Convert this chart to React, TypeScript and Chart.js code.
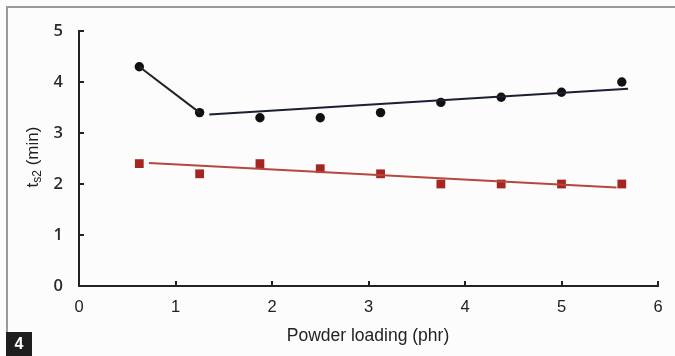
import React, { useEffect, useRef } from "react";
import { Chart, registerables } from "chart.js";

Chart.register(...registerables);

const loadings = [0.625, 1.25, 1.875, 2.5, 3.125, 3.75, 4.375, 5, 5.625];
const blackValues = [4.3, 3.4, 3.3, 3.3, 3.4, 3.6, 3.7, 3.8, 4.0];
const redValues = [2.4, 2.2, 2.4, 2.3, 2.2, 2.0, 2.0, 2.0, 2.0];
const blackSegment = [
  { x: 0.625, y: 4.3 },
  { x: 1.25, y: 3.4 },
];
const blackFit = [
  { x: 1.35, y: 3.365 },
  { x: 5.69, y: 3.87 },
];
const redFit = [
  { x: 0.725, y: 2.41 },
  { x: 5.57, y: 1.93 },
];
const xTicks = [0, 1, 2, 3, 4, 5, 6];
const yTicks = [0, 1, 2, 3, 4, 5];
const xTitle = "Powder loading (phr)";
const yTitleMain = "t";
const yTitleSub = "s2";
const yTitleRest = " (min)";
const figureLabel = "4";

const decorPlugin = {
  id: "decor",
  beforeDraw(chart: any) {
    const { ctx, width, height } = chart;
    ctx.save();
    ctx.fillStyle = "#fcfcfc";
    ctx.fillRect(0, 0, width, height);
    ctx.restore();
  },
  afterDraw(chart: any) {
    const { ctx, chartArea } = chart;
    const xs = chart.scales.x;
    const ys = chart.scales.y;
    ctx.save();
    // inward tick marks
    ctx.strokeStyle = "#222";
    ctx.lineWidth = 2;
    yTicks.forEach((v) => {
      const py = Math.round(ys.getPixelForValue(v));
      ctx.beginPath();
      ctx.moveTo(chartArea.left, py);
      ctx.lineTo(chartArea.left + 5, py);
      ctx.stroke();
    });
    xTicks.forEach((v) => {
      const px = Math.round(xs.getPixelForValue(v));
      ctx.beginPath();
      ctx.moveTo(px, chartArea.bottom);
      ctx.lineTo(px, chartArea.bottom - 5);
      ctx.stroke();
    });
    // x title
    ctx.fillStyle = "#222";
    ctx.font = "17.5px 'Liberation Sans', Arial, sans-serif";
    ctx.textAlign = "center";
    ctx.textBaseline = "middle";
    ctx.fillText(xTitle, 368, 336);
    // y title with subscript
    ctx.translate(32, 157);
    ctx.rotate(-Math.PI / 2);
    const mainFont = "17px 'Liberation Sans', Arial, sans-serif";
    const subFont = "12px 'Liberation Sans', Arial, sans-serif";
    ctx.font = mainFont;
    const w1 = ctx.measureText(yTitleMain).width;
    const w3 = ctx.measureText(yTitleRest).width;
    ctx.font = subFont;
    const w2 = ctx.measureText(yTitleSub).width;
    const total = w1 + w2 + w3;
    let cx = -total / 2;
    ctx.textAlign = "left";
    ctx.textBaseline = "alphabetic";
    ctx.font = mainFont;
    ctx.fillText(yTitleMain, cx, 6);
    cx += w1;
    ctx.font = subFont;
    ctx.fillText(yTitleSub, cx, 9);
    cx += w2;
    ctx.font = mainFont;
    ctx.fillText(yTitleRest, cx, 6);
    ctx.restore();

    // frame and figure label
    ctx.save();
    ctx.strokeStyle = "#9a9a9a";
    ctx.lineWidth = 2;
    ctx.beginPath();
    ctx.moveTo(7, 333);
    ctx.lineTo(7, 7);
    ctx.lineTo(675, 7);
    ctx.stroke();
    ctx.fillStyle = "#1e1e1e";
    ctx.fillRect(6, 332, 26, 24);
    ctx.fillStyle = "#ffffff";
    ctx.font = "bold 16px 'Liberation Sans', Arial, sans-serif";
    ctx.textAlign = "center";
    ctx.textBaseline = "middle";
    ctx.fillText(figureLabel, 19, 345);
    ctx.restore();
  },
};

export default function App() {
  const canvasRef = useRef<HTMLCanvasElement | null>(null);

  useEffect(() => {
    document.body.style.margin = "0";
    const canvas = canvasRef.current;
    if (!canvas) return;
    const black = "#111111";
    const redPoint = "#a52521";
    const redLine = "#b5483c";
    const chart = new Chart(canvas, {
      type: "scatter",
      data: {
        datasets: [
          {
            label: "segment",
            data: blackSegment,
            showLine: true,
            borderColor: "#222",
            borderWidth: 2,
            pointRadius: 0,
          },
          {
            label: "black fit",
            data: blackFit,
            showLine: true,
            borderColor: "#1a1f33",
            borderWidth: 2,
            pointRadius: 0,
          },
          {
            label: "red fit",
            data: redFit,
            showLine: true,
            borderColor: redLine,
            borderWidth: 2,
            pointRadius: 0,
          },
          {
            label: "black",
            data: loadings.map((x, i) => ({ x, y: blackValues[i] })),
            pointStyle: "circle",
            pointRadius: 4.7,
            backgroundColor: black,
            borderColor: black,
            borderWidth: 0,
          },
          {
            label: "red",
            data: loadings.map((x, i) => ({ x, y: redValues[i] })),
            pointStyle: "rect",
            pointRadius: 6.2,
            backgroundColor: redPoint,
            borderColor: redPoint,
            borderWidth: 0,
          },
        ],
      },
      options: {
        animation: false,
        responsive: false,
        maintainAspectRatio: false,
        layout: { padding: { left: 0, top: 31, right: 17, bottom: 0 } },
        plugins: {
          legend: { display: false },
          tooltip: { enabled: false },
        },
        scales: {
          x: {
            type: "linear",
            min: 0,
            max: 6,
            afterBuildTicks: (scale: any) => {
              scale.ticks = xTicks.map((v) => ({ value: v }));
            },
            afterFit: (scale: any) => {
              scale.height = 70;
            },
            grid: { display: false, drawTicks: false },
            border: { display: true, color: "#222", width: 2 },
            ticks: {
              padding: 12,
              color: "#222",
              font: { family: "'Liberation Sans', Arial, sans-serif", size: 16.5 },
            },
          },
          y: {
            type: "linear",
            min: 0,
            max: 5,
            afterBuildTicks: (scale: any) => {
              scale.ticks = yTicks.map((v) => ({ value: v }));
            },
            afterFit: (scale: any) => {
              scale.width = 79;
            },
            grid: { display: false, drawTicks: false },
            border: { display: true, color: "#222", width: 2 },
            ticks: {
              padding: 16,
              color: "#2a2a2a",
              font: { family: "'Open Sans', sans-serif", size: 16.5, weight: "600" },
            },
          },
        },
      },
      plugins: [decorPlugin],
    } as any);
    return () => chart.destroy();
  }, []);

  return (
    <div style={{ position: "fixed", left: 0, top: 0, width: 675, height: 356 }}>
      <canvas ref={canvasRef} width={675} height={356} style={{ width: 675, height: 356, display: "block" }} />
    </div>
  );
}
